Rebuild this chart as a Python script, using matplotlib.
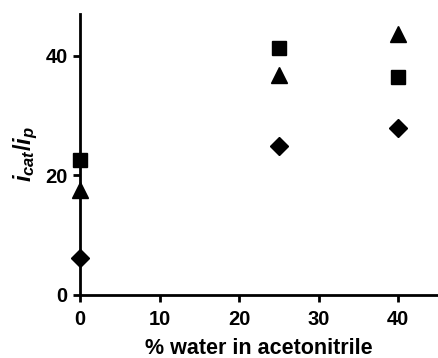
import matplotlib
matplotlib.use("Agg")
import matplotlib.pyplot as plt

plt.rcParams['font.family'] = ['Liberation Sans', 'DejaVu Sans']
plt.rcParams['font.weight'] = 'bold'
plt.rcParams['mathtext.fontset'] = 'custom'
plt.rcParams['mathtext.it'] = 'Liberation Sans:italic:bold'
plt.rcParams['mathtext.rm'] = 'Liberation Sans:bold'
plt.rcParams['mathtext.bf'] = 'Liberation Sans:bold'

water = [0, 25, 40]
squares = [22.5, 41.3, 36.5]
triangles = [17.6, 36.8, 43.7]
diamonds = [6.2, 24.9, 27.9]

fig = plt.figure(figsize=(4.38, 3.58), dpi=100)
ax = fig.add_axes([0.183, 0.176, 0.817, 0.785])

ax.plot(water, squares, linestyle='none', marker='s', color='black', markersize=9.5, clip_on=False, zorder=3)
ax.plot(water, triangles, linestyle='none', marker='^', color='black', markersize=11, clip_on=False, zorder=3)
ax.plot(water, diamonds, linestyle='none', marker='D', color='black', markersize=9, clip_on=False, zorder=3)

ax.set_xlim(0, 45)
ax.set_ylim(0, 47)
ax.set_xticks([0, 10, 20, 30, 40])
ax.set_yticks([0, 20, 40])
for s in ['top', 'right']:
    ax.spines[s].set_visible(False)
for s in ['left', 'bottom']:
    ax.spines[s].set_linewidth(2)
ax.tick_params(width=2, length=5, labelsize=14.5, pad=4)
ax.tick_params(axis='x', pad=6)
for lab in ax.get_xticklabels() + ax.get_yticklabels():
    lab.set_fontweight('bold')

ax.set_xlabel('% water in acetonitrile', fontsize=15.5, fontweight='bold', labelpad=6)
ax.set_ylabel(r'$i_{cat}/i_{p}$', fontsize=17, labelpad=4)

fig.savefig('out.png', dpi=100)
